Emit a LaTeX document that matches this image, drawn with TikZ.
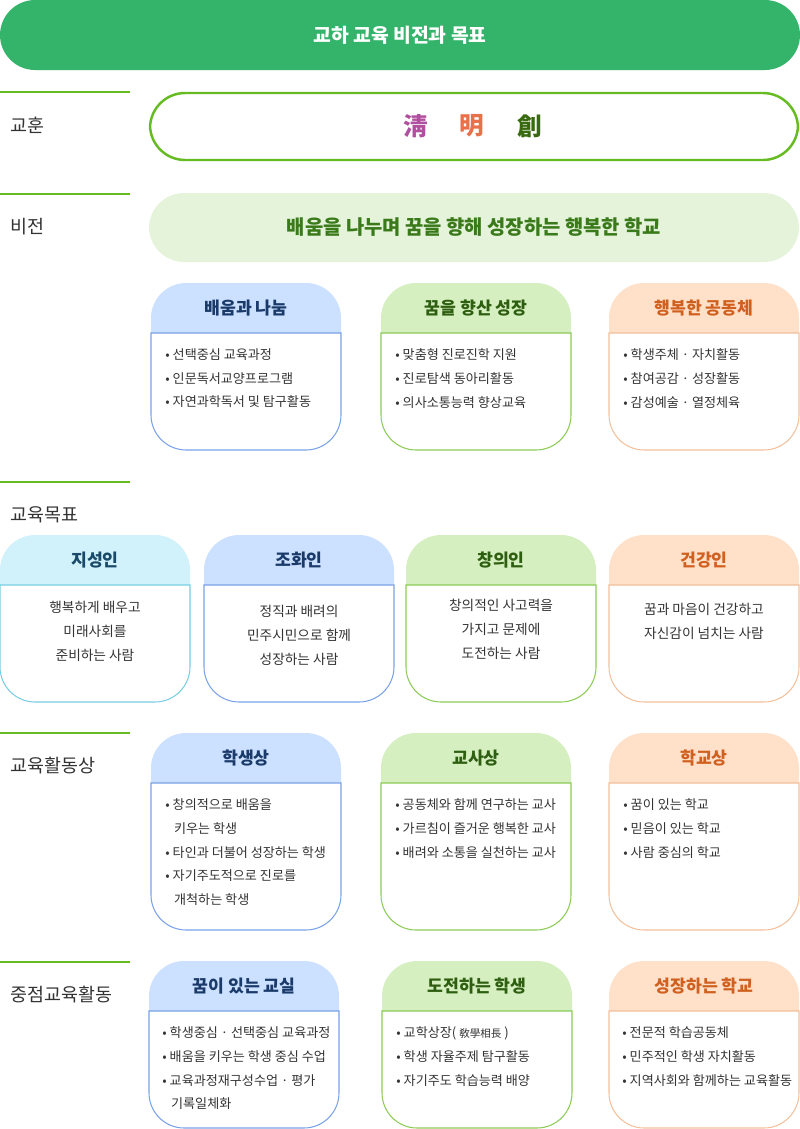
\documentclass[tikz,border=0pt]{standalone}
\usepackage{fontspec}
\setmainfont{Noto Sans CJK KR}
\definecolor{hdgreen}{HTML}{34B36A}
\definecolor{lgreen}{HTML}{66BB22}
\definecolor{visbg}{HTML}{E5F3DA}
\definecolor{vistx}{HTML}{3A7A1A}
\definecolor{bhead}{HTML}{CCE0FF}\definecolor{bline}{HTML}{7AA2E6}\definecolor{btx}{HTML}{1A3A6A}
\definecolor{ghead}{HTML}{D5EFC0}\definecolor{gline}{HTML}{8CCB55}\definecolor{gtx}{HTML}{2E5E10}
\definecolor{ohead}{HTML}{FFE0C8}\definecolor{oline}{HTML}{F2C09C}\definecolor{otx}{HTML}{D06020}
\definecolor{chead}{HTML}{D2F2FB}\definecolor{cline}{HTML}{7ACDE2}\definecolor{ctx}{HTML}{1A4A6A}
\definecolor{ink}{HTML}{333333}
\definecolor{mpurple}{HTML}{B0509E}\definecolor{morange}{HTML}{E8704A}\definecolor{mgreen}{HTML}{3A6A10}
\tikzset{
 lbl/.style={anchor=west,font=\fontsize{10.5}{12}\selectfont,text=ink},
 ttl/.style={font=\fontsize{9.8}{11}\selectfont\bfseries},
 itm/.style={anchor=north west,font=\fontsize{7.45}{13.6}\selectfont,text=ink,align=left,inner sep=0},
 ctr/.style={anchor=north,font=\fontsize{7.8}{13.6}\selectfont,text=ink,align=center,inner sep=0},
 mot/.style={font=\fontsize{14}{15}\selectfont\bfseries},
}
% #1 x left, #2 top, #3 header bottom, #4 bottom, #5 headcol, #6 linecol, #7 title color, #8 title, #9 name
\newcommand\mycard[9]{%
 \fill[#5] (#1,#3) {[rounded corners=20] -- (#1,#2) -- (#1+190,#2)} -- (#1+190,#3) -- cycle;
 \draw[#6,line width=0.6pt] (#1,#3) {[rounded corners=20] -- (#1,#4) -- (#1+190,#4)} -- (#1+190,#3) -- cycle;
 \node[ttl,text=#7] (#9) at (#1+95,{(#2+#3)/2}) {#8};
}
\begin{document}
\begin{tikzpicture}[x=0.02cm,y=-0.02cm]
\useasboundingbox (0,0) rectangle (800,1129);
\fill[hdgreen,rounded corners=20] (0,0) rectangle (800,70);
\node[text=white,font=\fontsize{11}{12}\selectfont\bfseries] (top) at (400,35) {교하 교육 비전과 목표};
\foreach \y/\t/\n in {92/교훈/l1,194/비전/l2,482/교육목표/l3,733/교육활동상/l4,962/중점교육활동/l5}{
 \draw[lgreen,line width=1.6pt] (0,\y) -- (130,\y);
 \node[lbl] (\n) at (4,\y+33) {\t};
}
\draw[lgreen,line width=1.4pt,rounded corners=20] (150,93) rectangle (798,160);
\node[mot,text=mpurple] (m1) at (416,126) {淸};
\node[mot,text=morange] (m2) at (472,126) {明};
\node[mot,text=mgreen] (m3) at (530,126) {創};
\fill[visbg,rounded corners=20] (149,193) rectangle (799,262);
\node[font=\fontsize{11.3}{12}\selectfont\bfseries,text=vistx] (vis) at (474,227) {배움을 나누며 꿈을 향해 성장하는 행복한 학교};
\mycard{151}{283}{333}{450}{bhead}{bline}{btx}{배움과 나눔}{a1}
\mycard{381}{283}{333}{450}{ghead}{gline}{gtx}{꿈을 향산 성장}{a2}
\mycard{609}{283}{333}{450}{ohead}{oline}{otx}{행복한 공동체}{a3}
\node[itm] (a1t) at (165,348) {• 선택중심 교육과정\\• 인문독서교양프로그램\\• 자연과학독서 및 탐구활동};
\node[itm] (a2t) at (395,348) {• 맞춤형 진로진학 지원\\• 진로탐색 동아리활동\\• 의사소통능력 향상교육};
\node[itm] (a3t) at (623,348) {• 학생주체 · 자치활동\\• 참여공감 · 성장활동\\• 감성예술 · 열정체육};
\mycard{0}{535}{585}{702}{chead}{cline}{ctx}{지성인}{b1}
\mycard{204}{535}{585}{702}{bhead}{bline}{btx}{조화인}{b2}
\mycard{406}{535}{585}{702}{ghead}{gline}{gtx}{창의인}{b3}
\mycard{609}{535}{585}{702}{ohead}{oline}{otx}{건강인}{b4}
\node[ctr] (b1t) at (95,601) {행복하게 배우고\\미래사회를\\준비하는 사람};
\node[ctr] (b2t) at (299,605) {정직과 배려의\\민주시민으로 함께\\성장하는 사람};
\node[ctr] (b3t) at (501,599) {창의적인 사고력을\\가지고 문제에\\도전하는 사람};
\node[ctr] (b4t) at (704,603) {꿈과 마음이 건강하고\\자신감이 넘치는 사람};
\mycard{151}{733}{783}{930}{bhead}{bline}{btx}{학생상}{c1}
\mycard{381}{733}{783}{930}{ghead}{gline}{gtx}{교사상}{c2}
\mycard{609}{733}{783}{930}{ohead}{oline}{otx}{학교상}{c3}
\node[itm] (c1t) at (165,798) {• 창의적으로 배움을\\\ \ \ 키우는 학생\\• 타인과 더불어 성장하는 학생\\• 자기주도적으로 진로를\\\ \ \ 개척하는 학생};
\node[itm] (c2t) at (395,798) {• 공동체와 함께 연구하는 교사\\• 가르침이 즐거운 행복한 교사\\• 배려와 소통을 실천하는 교사};
\node[itm] (c3t) at (623,798) {• 꿈이 있는 학교\\• 믿음이 있는 학교\\• 사람 중심의 학교};
\mycard{149}{961}{1011}{1128}{bhead}{bline}{btx}{꿈이 있는 교실}{d1}
\mycard{382}{961}{1011}{1128}{ghead}{gline}{gtx}{도전하는 학생}{d2}
\mycard{609}{961}{1011}{1128}{ohead}{oline}{otx}{성장하는 학교}{d3}
\node[itm] (d1t) at (162,1026) {• 학생중심 · 선택중심 교육과정\\• 배움을 키우는 학생 중심 수업\\• 교육과정재구성수업 · 평가\\\ \ \ 기록일체화};
\node[itm] (d2t) at (396,1026) {• 교학상장( {\fontsize{6}{7}\selectfont 敎學相長} )\\• 학생 자율주제 탐구활동\\• 자기주도 학습능력 배양};
\node[itm] (d3t) at (622,1026) {• 전문적 학습공동체\\• 민주적인 학생 자치활동\\• 지역사회와 함께하는 교육활동};
\end{tikzpicture}
\end{document}
